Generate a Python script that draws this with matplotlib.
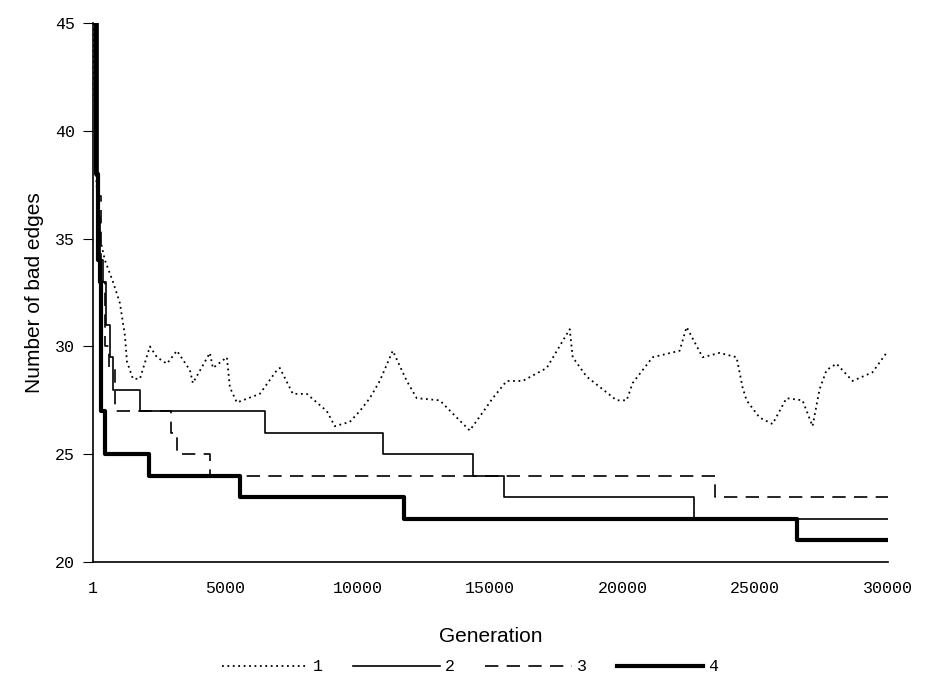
import matplotlib
matplotlib.use('Agg')
import matplotlib.pyplot as plt

# Run 1 (noisy, dotted)
gen1 = [1, 114, 265, 453, 756, 1020, 1208, 1284, 1510, 1774, 2152, 2416, 2793, 3170,
        3661, 3774, 4415, 4529, 5057, 5170, 5434, 6302, 6944, 7057, 7547, 8075, 8830,
        9132, 9698, 10075, 10453, 10830, 11320, 11849, 12226, 13094, 13736, 14226,
        14867, 15094, 15622, 16226, 17132, 18000, 18113, 18641, 19773, 20150, 20376,
        21131, 22150, 22414, 23018, 23659, 24300, 24527, 24678, 25168, 25659, 26186,
        26790, 27168, 27432, 27696, 28073, 28677, 29432, 29960]
val1 = [45, 38, 35, 34, 33, 32, 30.5, 29.3, 28.5, 28.5, 30, 29.5, 29.2, 29.8,
        28.9, 28.3, 29.7, 29, 29.5, 28.1, 27.4, 27.8, 28.9, 29, 27.8, 27.8, 27,
        26.3, 26.5, 27, 27.6, 28.4, 29.8, 28.4, 27.6, 27.5, 26.7, 26.1,
        27.2, 27.6, 28.4, 28.4, 29, 30.8, 29.5, 28.6, 27.5, 27.5, 28.3,
        29.5, 29.8, 30.9, 29.5, 29.7, 29.5, 28.1, 27.5, 26.7, 26.4, 27.6,
        27.5, 26.3, 28, 28.9, 29.2, 28.4, 28.8, 29.7]

# Runs 2-4 (step curves)
gen2 = [1, 190, 265, 378, 490, 640, 756, 1774, 6490, 10940, 14340, 15510, 22680, 30000]
val2 = [45, 36, 34, 33, 31, 29.5, 28, 27, 26, 25, 24, 23, 22, 22]

gen3 = [1, 150, 300, 450, 600, 830, 2944, 3170, 4415, 23470, 30000]
val3 = [45, 37, 33, 30, 29, 27, 26, 25, 24, 23, 23]

gen4 = [1, 114, 190, 265, 300, 453, 2100, 5550, 11730, 26600, 30000]
val4 = [45, 38, 34, 33, 27, 25, 24, 23, 22, 21, 21]

xticks = [1, 5000, 10000, 15000, 20000, 25000, 30000]
yticks = [20, 25, 30, 35, 40, 45]

fig = plt.figure(figsize=(9.25, 6.82), dpi=100)
ax = fig.add_axes([0.1005, 0.176, 0.859, 0.790])

ax.plot(gen1, val1, color='black', lw=1.3, ls=(0, (1, 2)), label='1')
ax.plot(gen2, val2, color='black', lw=1.2, drawstyle='steps-post', label='2')
ax.plot(gen3, val3, color='black', lw=1.2, ls=(0, (8, 5)), drawstyle='steps-post', label='3')
ax.plot(gen4, val4, color='black', lw=3.0, drawstyle='steps-post', label='4')

ax.set_xlim(1, 30000)
ax.set_ylim(20, 45)
ax.set_xticks(xticks)
ax.set_xticklabels([str(t) for t in xticks], family='Liberation Mono', fontsize=12)
ax.set_yticks(yticks)
ax.set_yticklabels([str(t) for t in yticks], family='Liberation Mono', fontsize=12)
ax.tick_params(axis='x', length=0, pad=14)
ax.tick_params(axis='y', length=7, direction='out', pad=6)

for s in ['top', 'right']:
    ax.spines[s].set_visible(False)
ax.spines['left'].set_linewidth(1.2)
ax.spines['bottom'].set_linewidth(1.2)

ax.set_xlabel('Generation', family='Liberation Sans', fontsize=15, labelpad=22)
ax.set_ylabel('Number of bad edges', family='Liberation Sans', fontsize=15, labelpad=8)

leg = fig.legend(loc='center', bbox_to_anchor=(0.508, 0.022), ncol=4, frameon=False,
                 handlelength=5.2, handletextpad=0.3, columnspacing=1.8,
                 prop={'family': 'Liberation Mono', 'size': 12})

fig.savefig('out.png', dpi=100)
